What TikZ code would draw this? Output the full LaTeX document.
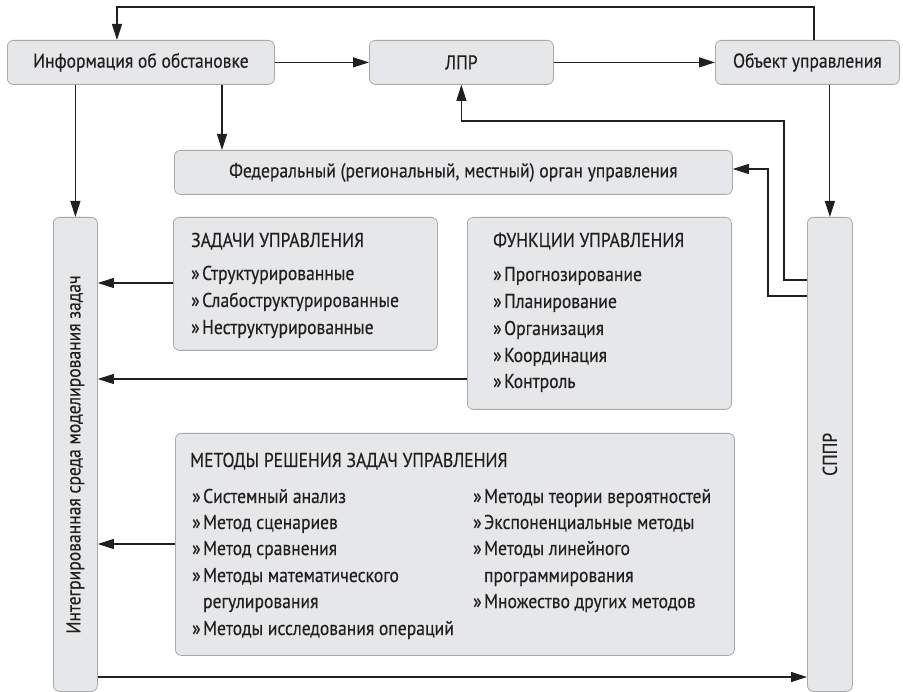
\documentclass[tikz,border=0pt]{standalone}
\usepackage{fontspec}
\setmainfont[FakeStretch=0.88,FakeBold=0.35]{PT Sans}
\usetikzlibrary{arrows.meta}
\definecolor{boxfill}{HTML}{E6E7E8}
\definecolor{boxline}{HTML}{A7A9AC}
\definecolor{ink}{HTML}{231F20}
\newcommand{\fsz}{\fontsize{20}{24}\selectfont}
\newcommand{\bul}{»\kern2.5pt}
\newcommand{\hng}{\phantom{»}\kern2.5pt}
\begin{document}
\begin{tikzpicture}[x=1pt,y=-1pt,
  box/.style={draw=boxline, fill=boxfill, line width=0.8pt, rounded corners=6pt, inner sep=0, anchor=north west, font=\fsz, text=ink},
  txt/.style={anchor=base west, inner sep=0, font=\fsz, text=ink},
  arr/.style={draw=ink, line width=1.1pt, -{Triangle[length=16pt,width=10pt]}},
  ln/.style={draw=ink, line width=1.1pt}]
\useasboundingbox (0,0) rectangle (903,692);
% boxes
\node[box, minimum width=267pt, minimum height=44pt] (info) at (7,40) {Информация об обстановке};
\node[box, minimum width=184pt, minimum height=44pt] (lpr) at (369,40) {ЛПР};
\node[box, minimum width=184pt, minimum height=44pt] (obj) at (715,40) {Объект управления};
\node[box, minimum width=558pt, minimum height=44pt] (fed) at (174,150) {Федеральный (региональный, местный) орган управления};
\node[box, minimum width=44pt, minimum height=474pt] (integ) at (53,217) {};
\node[box, minimum width=45pt, minimum height=474pt] (sppr) at (807,217) {};
\node[box, minimum width=264pt, minimum height=133pt] (zad) at (173,217) {};
\node[box, minimum width=264pt, minimum height=192pt] (fun) at (467,217) {};
\node[box, minimum width=559pt, minimum height=222pt] (met) at (175,433) {};
% rotated labels
\node[rotate=90, inner sep=0, font=\fsz, text=ink] (integt) at (integ.center) {Интегрированная среда моделирования задач};
\node[rotate=90, inner sep=0, font=\fsz, text=ink] (spprt) at (sppr.center) {СППР};
% ZADACHI
\node[txt] (z0) at (191,247) {ЗАДАЧИ УПРАВЛЕНИЯ};
\node[txt] (z1) at (191,280) {\bul Структурированные};
\node[txt] (z2) at (191,307) {\bul Слабоструктурированные};
\node[txt] (z3) at (191,334) {\bul Неструктурированные};
% FUNKCII
\node[txt] (f0) at (493,247) {ФУНКЦИИ УПРАВЛЕНИЯ};
\node[txt] (f1) at (493,281) {\bul Прогнозирование};
\node[txt] (f2) at (493,308) {\bul Планирование};
\node[txt] (f3) at (493,335) {\bul Организация};
\node[txt] (f4) at (493,362) {\bul Координация};
\node[txt] (f5) at (493,388) {\bul Контроль};
% METODY
\node[txt] (m0) at (190,467) {МЕТОДЫ РЕШЕНИЯ ЗАДАЧ УПРАВЛЕНИЯ};
\node[txt] (m1) at (192,503) {\bul Системный анализ};
\node[txt] (m2) at (192,529) {\bul Метод сценариев};
\node[txt] (m3) at (192,555) {\bul Метод сравнения};
\node[txt] (m4) at (192,582) {\bul Методы математического};
\node[txt] (m5) at (192,608) {\hng регулирования};
\node[txt] (m6) at (192,635) {\bul Методы исследования операций};
\node[txt] (n1) at (473,503) {\bul Методы теории вероятностей};
\node[txt] (n2) at (473,529) {\bul Экспоненциальные методы};
\node[txt] (n3) at (473,555) {\bul Методы линейного};
\node[txt] (n4) at (473,582) {\hng программирования};
\node[txt] (n5) at (473,608) {\bul Множество других методов};
% connectors
\coordinate (topR) at (814,7);
\coordinate (topL) at (117,7);
\draw[arr] (obj.north -| topR) -- (topR) -- (topL) -- (topL |- info.north);
\draw[arr] (info.east) -- (lpr.west);
\draw[arr] (lpr.east) -- (obj.west);
\draw[arr] (info.south -| integ.north) -- (integ.north);
\draw[arr] (info.south -| 222,0) -- (fed.north -| 222,0);
\draw[arr] (obj.south -| sppr.north) -- (sppr.north);
\coordinate (c1) at (784,280);
\draw[arr] (sppr.west |- c1) -- (c1) -- (c1 |- 0,121) -- (lpr.south |- 0,121) -- (lpr.south);
\coordinate (c2) at (768,296);
\draw[arr] (sppr.west |- c2) -- (c2) -- (c2 |- 0,169) -- (fed.east |- 0,169);
\draw[arr] (zad.west |- 0,283) -- (integ.east |- 0,283);
\draw[arr] (fun.west |- 0,379) -- (integ.east |- 0,379);
\draw[arr] (met.west |- 0,544) -- (integ.east |- 0,544);
\draw[arr] (integ.east |- 0,677) -- (sppr.west |- 0,677);
\end{tikzpicture}
\end{document}
